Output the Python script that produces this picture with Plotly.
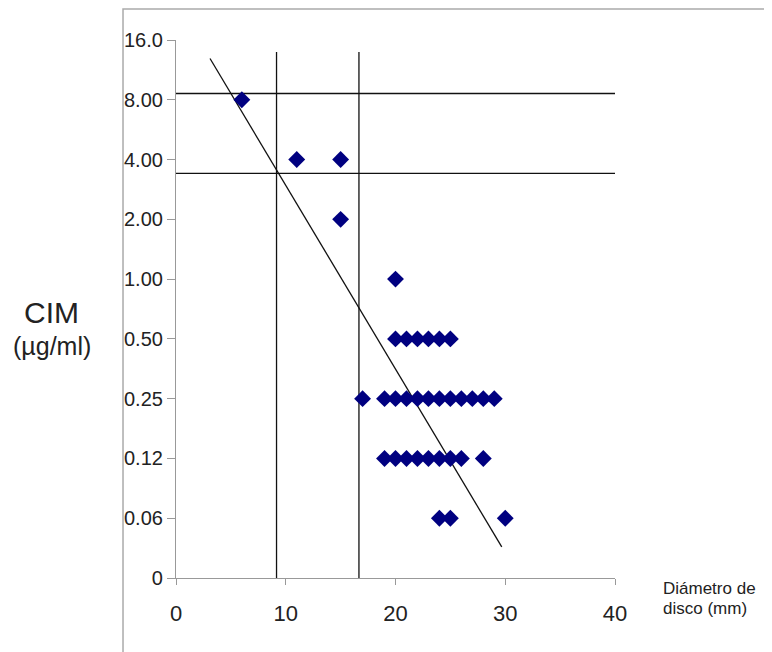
import plotly.graph_objects as go

# Y axis: MIC categories (equally spaced, log2 steps)
mic_labels = ["0", "0.06", "0.12", "0.25", "0.50", "1.00", "2.00", "4.00", "8.00", "16.0"]
mic_index = list(range(len(mic_labels)))

# Scatter data: disc diameter (mm) and MIC category index
diam = [6, 11, 15, 15, 20,
        20, 21, 22, 23, 24, 25,
        17, 19, 20, 21, 22, 23, 24, 25, 26, 27, 28, 29,
        19, 20, 21, 22, 23, 24, 25, 26, 28,
        24, 25, 30]
mic_idx = [8, 7, 7, 6, 5,
           4, 4, 4, 4, 4, 4,
           3, 3, 3, 3, 3, 3, 3, 3, 3, 3, 3, 3,
           2, 2, 2, 2, 2, 2, 2, 2, 2,
           1, 1, 1]

# Regression line endpoints (x in mm, y in category index)
reg_x = [3.1, 29.68]
reg_y = [8.69, 0.52]

# Breakpoint lines
bp_h = [8.105, 6.77]        # horizontal breakpoints (category index)
bp_v = [9.16, 16.67]        # vertical breakpoints (mm)
bp_v_top = 8.8
x_ticks = [0, 10, 20, 30, 40]

fig = go.Figure()

for yh in bp_h:
    fig.add_trace(go.Scatter(x=[0, 40], y=[yh, yh], mode="lines",
                             line=dict(color="#111", width=1.3), hoverinfo="skip"))
for xv in bp_v:
    fig.add_trace(go.Scatter(x=[xv, xv], y=[0, bp_v_top], mode="lines",
                             line=dict(color="#111", width=1.3), hoverinfo="skip"))

fig.add_trace(go.Scatter(x=reg_x, y=reg_y, mode="lines",
                         line=dict(color="#111", width=1.3), hoverinfo="skip"))

fig.add_trace(go.Scatter(x=diam, y=mic_idx, mode="markers",
                         marker=dict(symbol="diamond", size=13, color="#000080"),
                         cliponaxis=False))

font_family = "Liberation Sans, Arial, sans-serif"

fig.update_layout(
    width=772, height=652,
    margin=dict(l=168, r=165, t=32, b=82),
    paper_bgcolor="white", plot_bgcolor="white",
    showlegend=False,
    font=dict(family=font_family, color="#222"),
    xaxis=dict(range=[0, 40], tickvals=x_ticks, ticktext=[str(v) for v in x_ticks],
               showgrid=False, zeroline=False, showline=True, linecolor="#999", linewidth=1.2,
               ticks="outside", ticklen=6, tickcolor="#999", tickfont=dict(size=22, color="#222"),
               ticklabelstandoff=9),
    yaxis=dict(range=[0, 9], tickvals=mic_index, ticktext=mic_labels,
               showgrid=False, zeroline=False, showline=True, linecolor="#999", linewidth=1.2,
               ticks="outside", ticklen=8, tickcolor="#999", tickfont=dict(size=20, color="#222")),
    shapes=[dict(type="rect", xref="paper", yref="paper",
                 x0=-0.1207, x1=1.346, y0=-0.2, y1=1.0576,
                 line=dict(color="#aaa", width=1.5), layer="below")],
    annotations=[
        dict(text="CIM", xref="paper", yref="paper", x=-0.2825, y=0.4926,
             xanchor="center", yanchor="middle", showarrow=False, font=dict(size=30, color="#222")),
        dict(text="(µg/ml)", xref="paper", yref="paper", x=-0.2825, y=0.431,
             xanchor="center", yanchor="middle", showarrow=False, font=dict(size=25, color="#222")),
        dict(text="Diámetro de", xref="paper", yref="paper", x=1.107, y=-0.019,
             xanchor="left", yanchor="middle", showarrow=False, borderpad=0,
             font=dict(size=17, color="#222")),
        dict(text="disco (mm)", xref="paper", yref="paper", x=1.107, y=-0.0572,
             xanchor="left", yanchor="middle", showarrow=False, borderpad=0,
             font=dict(size=17, color="#222")),
    ],
)

fig.write_html("out.html")
